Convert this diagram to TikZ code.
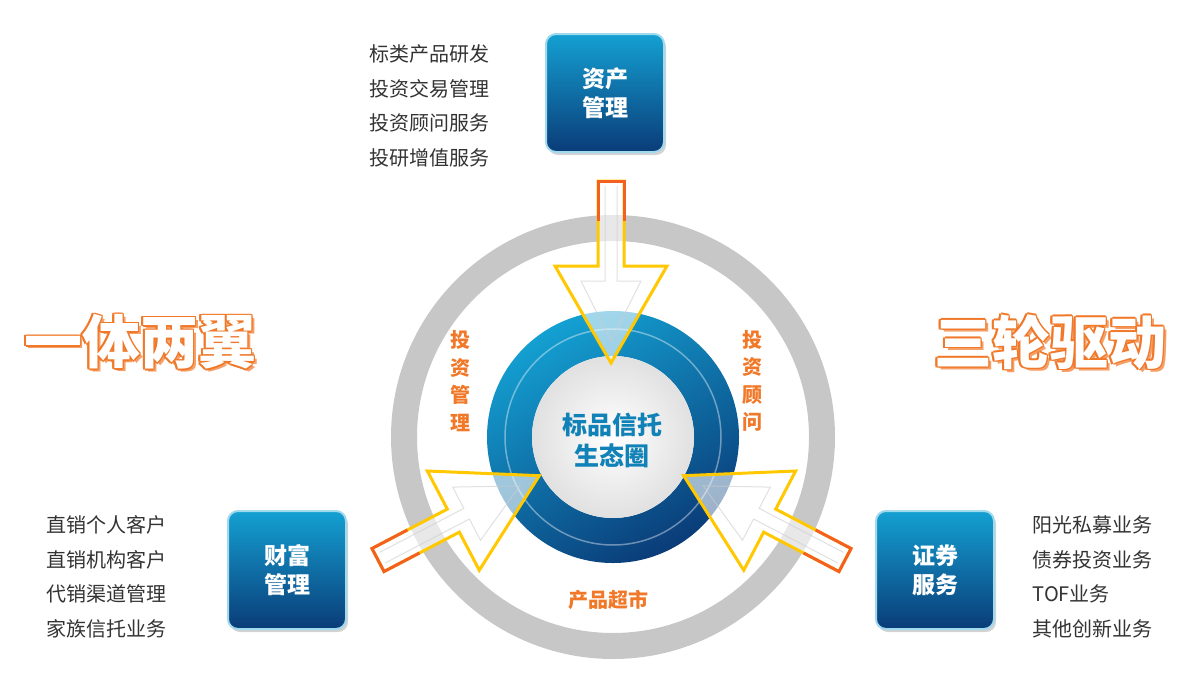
\documentclass[tikz,border=0pt]{standalone}
\usepackage{fontspec}
\setmainfont{Noto Sans CJK SC}
\usetikzlibrary{shadows}
\definecolor{org}{RGB}{240,120,40}
\definecolor{ylw}{RGB}{255,200,0}
\definecolor{navy}{RGB}{10,60,120}
\definecolor{cyanb}{RGB}{20,160,210}
\begin{document}
\begin{tikzpicture}[x=1pt,y=1pt,
  box/.style={rounded corners=10pt,minimum width=118pt,minimum height=118pt,
    top color=cyanb,bottom color=navy,draw=cyanb!40,line width=2pt,
    text=white,font=\fontsize{23}{29}\selectfont\bfseries,align=center,
    drop shadow={opacity=0.35,shadow xshift=2pt,shadow yshift=-3pt}},
  lst/.style={font=\fontsize{20}{34.5}\selectfont,text=black!80,align=left,anchor=west},
  lbl/.style={font=\fontsize{20}{27.5}\selectfont\bfseries,text=org,align=center},
  big/.style={font=\fontsize{58}{64}\selectfont\bfseries}]
\useasboundingbox (0,0) rectangle (1190,-683);
% gray ring
\fill[black!22,even odd rule] (613,-437) circle (222) (613,-437) circle (196);
% blue donut
\shade[top color=cyanb,bottom color=navy,shading angle=30,even odd rule] (613,-437) circle (126) (613,-437) circle (81);
\draw[white,opacity=0.4,line width=1.5pt] (613,-437) circle (108);
\shade[inner color=white,outer color=black!12] (613,-437) circle (81);
\node[font=\fontsize{25}{31}\selectfont\bfseries,text=cyanb!70!navy,align=center] (c) at (612,-440) {标品信托\\生态圈};
% arrows
\tikzset{arr/.style={fill=white,fill opacity=0.6,draw=ylw,line width=3pt,line join=miter}}
\foreach \nm/\x/\y/\a in {at/611/-181/-90, al/378/-560/27.6, ar/845/-560/152.4}{
  \begin{scope}[shift={(\x,\y)},rotate=\a]
    \path[arr] (0,13)--(85,13)--(85,56)--(182,0)--(85,-56)--(85,-13)--(0,-13)--cycle;
    \draw[org!80!red,line width=3pt] (40,13)--(0,13)--(0,-13)--(40,-13);
    \draw[white!80!black,line width=1pt,opacity=0.6] (5,6)--(100,6)--(100,30)--(160,0)--(100,-30)--(100,-6)--(5,-6);
  \end{scope}}
% boxes
\node[box] (zc) at (605,-93) {资产\\管理};
\node[box] (cf) at (287,-570) {财富\\管理};
\node[box] (zq) at (935,-570) {证券\\服务};
% lists
\node[lst] (l1) at (366,-106) {标类产品研发\\投资交易管理\\投资顾问服务\\投研增值服务};
\node[lst] (l2) at (43,-577) {直销个人客户\\直销机构客户\\代销渠道管理\\家族信托业务};
\node[lst] (l3) at (1029,-577) {阳光私募业务\\债券投资业务\\TOF业务\\其他创新业务};
% labels
\node[lbl] (t1) at (460,-381) {投\\资\\管\\理};
\node[lbl] (t2) at (752,-381) {投\\资\\顾\\问};
\node[lbl] (t3) at (608,-600) {产品超市};
% big outlined text
\foreach \nm/\x/\s in {b1/140/一体两翼, b2/1050/三轮驱动}{
  \node[big,text=org!70] at (\x+3,-345) {\s};
  \foreach \dx/\dy in {1.5/0,-1.5/0,0/1.5,0/-1.5,1.1/1.1,1.1/-1.1,-1.1/1.1,-1.1/-1.1}
    \node[big,text=org] at (\x+\dx,-342+\dy) {\s};
  \node[big,text=white] (\nm) at (\x,-342) {\s};
}
\end{tikzpicture}
\end{document}
